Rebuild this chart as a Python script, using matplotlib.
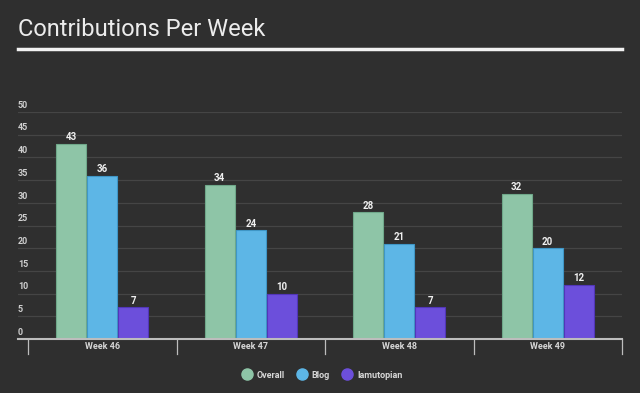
import numpy as np
import matplotlib.pyplot as plt
from matplotlib.lines import Line2D

weeks = ['Week 46', 'Week 47', 'Week 48', 'Week 49']
series_names = ['Overall', 'Blog', 'Iamutopian']
overall = [43, 34, 28, 32]
blog = [36, 24, 21, 20]
iamutopian = [7, 10, 7, 12]
y_ticks = [0, 5, 10, 15, 20, 25, 30, 35, 40, 45, 50]

bg = '#2f2f2f'
colors = ['#8ec5a7', '#5db6e6', '#6c4fdb']
edges = ['#6fa88a', '#3f96c6', '#5236b8']

W, H = 640, 393
fig = plt.figure(figsize=(W / 100, H / 100), dpi=100, facecolor=bg)

# title + underline
fig.text(18 / W, 1 - 30 / H, 'Contributions Per Week', color='#ececec',
         fontsize=17, family='Roboto', va='center', ha='left')
fig.add_artist(Line2D([18 / W, 622 / W], [1 - 48.5 / H, 1 - 48.5 / H],
                      color='#f2f2f2', lw=2.5))

# axes spans x 18..622 px, y 112..339 px
ax = fig.add_axes([18 / W, (H - 339) / H, 604 / W, 227 / H])
ax.set_facecolor(bg)
cat_w = 148.5
ax.set_xlim(-0.5 - 10 / cat_w, 3.5)
ax.set_ylim(0, 50)

x = np.arange(len(weeks))
step = 31 / cat_w
bw = 30 / cat_w
data = [overall, blog, iamutopian]
for i, vals in enumerate(data):
    pos = x + (i - 1) * step
    bars = ax.bar(pos, vals, width=bw, color=colors[i], edgecolor=edges[i],
                  linewidth=0.8, zorder=3)
    for b, v in zip(bars, vals):
        ax.text(b.get_x() + b.get_width() / 2, v + 0.3, str(v),
                ha='center', va='bottom', color='#f0f0f0', fontsize=7,
                fontweight='bold', family='Roboto', zorder=4)

# gridlines and y labels sitting on top of the lines
for t in y_ticks:
    if t > 0:
        ax.axhline(t, color='#454545', lw=0.9, zorder=1)
    ax.text(0, t + 0.5, str(t), transform=ax.get_yaxis_transform(),
            ha='left', va='bottom', color='#cfcfcf', fontsize=6.5,
            fontweight='bold', family='Roboto')

for s in ax.spines.values():
    s.set_visible(False)
ax.axhline(0, color='#bdbdbd', lw=1.5, zorder=5, clip_on=False)
ax.set_yticks([])
ax.set_xticks([])

# category separators below the axis
for sep in np.arange(-0.5, 4.0, 1.0):
    ax.plot([sep, sep], [0, -3.2], color='#bdbdbd', lw=0.9, clip_on=False)
for xi, w in zip(x, weeks):
    ax.text(xi, -1.6, w, ha='center', va='center', color='#d6d6d6',
            fontsize=6.5, fontweight='bold', family='Roboto')

# legend
handles = [Line2D([], [], marker='o', ls='', markersize=8,
                  markerfacecolor=c, markeredgecolor=c) for c in colors]
leg = fig.legend(handles, series_names, loc='center',
                 bbox_to_anchor=(0.5, 1 - 375 / H), ncol=3, frameon=False,
                 handletextpad=0.1, columnspacing=0.9,
                 prop={'family': 'Roboto', 'size': 6.5, 'weight': 'bold'})
for t in leg.get_texts():
    t.set_color('#d6d6d6')

fig.savefig('out.png', dpi=100, facecolor=bg)
